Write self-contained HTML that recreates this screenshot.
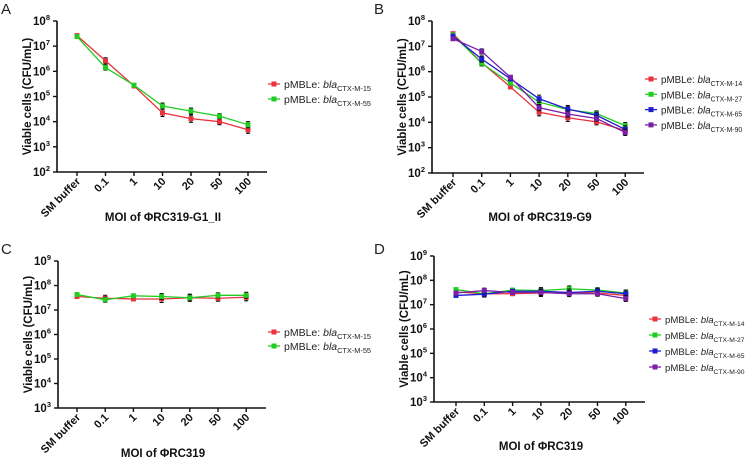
<!DOCTYPE html>
<html><head><meta charset="utf-8"><style>
body{margin:0;background:#fff;width:750px;height:459px;overflow:hidden}
svg{font-family:"Liberation Sans",Arial,sans-serif}
</style></head><body>
<svg id="fig" width="750" height="459" viewBox="0 0 750 459" xmlns="http://www.w3.org/2000/svg"></svg>
<script>
const categories = ["SM buffer","0.1","1","10","20","50","100"];
const aRed = [7.42,6.42,5.42,4.35,4.12,4.0,3.68];
const aGreen = [7.38,6.15,5.45,4.62,4.42,4.22,3.88];
const bRed = [7.5,6.35,5.4,4.4,4.18,4.02,3.68];
const bGreen = [7.45,6.33,5.55,4.8,4.5,4.35,3.87];
const bBlue = [7.4,6.5,5.72,4.93,4.52,4.28,3.72];
const bPurple = [7.3,6.8,5.78,4.58,4.33,4.15,3.6];
const cRed = [7.55,7.48,7.45,7.45,7.5,7.48,7.52];
const cGreen = [7.63,7.42,7.58,7.55,7.5,7.6,7.6];
const dRed = [7.52,7.45,7.45,7.48,7.5,7.48,7.38];
const dGreen = [7.62,7.45,7.6,7.58,7.65,7.6,7.48];
const dBlue = [7.38,7.43,7.55,7.55,7.5,7.55,7.45];
const dPurple = [7.48,7.58,7.5,7.5,7.45,7.45,7.25];
const errs = [0.05,0.1,0.06,0.12,0.12,0.1,0.12];

const NS="http://www.w3.org/2000/svg";
const svg=document.getElementById('fig');
function mk(tag,attrs,parent){const e=document.createElementNS(NS,tag);for(const k in attrs)e.setAttribute(k,attrs[k]);(parent||svg).appendChild(e);return e;}
const COLORS={red:"#e8323c",green:"#22cc22",blue:"#1c1cd0",purple:"#7a1fa8"};

function panel(p){
  const g=mk('g',{});
  
  
  const t=mk('text',{x:p.lx,y:p.ly,'font-size':15,fill:'#222'},g);t.textContent=p.letter;
  
  
  const yS=v=>p.yTop+(p.yMax-v)*(p.yBot-p.yTop)/(p.yMax-p.yMin);
  const xS=i=>p.x0+i*p.dx;
  const ax=mk('path',{d:`M${p.ax},${p.yTop}V${p.yBot}H${p.axEnd}`,stroke:'#111','stroke-width':1.6,fill:'none'},g);
  
  
  for(let v=p.yMin;v<=p.yMax;v++){
    const y=yS(v);
    mk('line',{x1:p.ax-4,x2:p.ax,y1:y,y2:y,stroke:'#111','stroke-width':1.4},g);
    const tx=mk('text',{x:p.ax-7,y:y+4,'font-size':11.5,'font-weight':'bold','text-anchor':'end',fill:'#111'},g);
    tx.innerHTML='10<tspan dy="-5" font-size="7.5">'+v+'</tspan>';
    
    
  }
  categories.forEach((c,i)=>{
    const x=xS(i);
    mk('line',{x1:x,x2:x,y1:p.yBot,y2:p.yBot+4,stroke:'#111','stroke-width':1.4},g);
    const tx=mk('text',{x:x+4,y:p.yBot+10,'font-size':11,'font-weight':'bold','text-anchor':'end',fill:'#111',transform:`rotate(-45 ${x+4} ${p.yBot+10})`},g);
    tx.textContent=c;
    
    
  });
  const xt=mk('text',{x:p.titleX,y:p.titleY,'font-size':11.5,'font-weight':'bold','text-anchor':'middle',fill:'#111'},g);
  xt.textContent=p.xtitle;
  
  
  const yc=(p.yTop+p.yBot)/2;
  const yt=mk('text',{x:p.ax-26,y:yc,'font-size':11.5,'font-weight':'bold','text-anchor':'middle',fill:'#111',transform:`rotate(-90 ${p.ax-26} ${yc})`},g);
  yt.textContent='Viable cells (CFU/mL)';
  
  
  p.series.forEach((s,si)=>{
    const col=COLORS[s.color];
    const pts=s.vals.map((v,i)=>xS(i)+','+yS(v)).join(' ');
    const pl=mk('polyline',{points:pts,fill:'none',stroke:col,'stroke-width':1.3},g);
    
    
    s.vals.forEach((v,i)=>{
      const x=xS(i),y=yS(v),e=errs[i]*(si%2?1:1.2);
      mk('path',{d:`M${x},${yS(v+e)}V${yS(v-e)}M${x-2},${yS(v+e)}h4M${x-2},${yS(v-e)}h4`,stroke:'#111','stroke-width':1.1},g);
      const m=mk('rect',{x:x-2.5,y:y-2.5,width:5,height:5,fill:col},g);
      
      
    });
    const ly=p.legY+si*p.legDy;
    const le=mk('g',{},g);
    
    
    mk('line',{x1:p.legX,x2:p.legX+12,y1:ly,y2:ly,stroke:col,'stroke-width':1.3},le);
    mk('rect',{x:p.legX+3.5,y:ly-2.5,width:5,height:5,fill:col},le);
    const lt=mk('text',{x:p.legX+16,y:ly+4,'font-size':p.legFs,fill:'#222'},le);
    lt.innerHTML='pMBLe: <tspan font-style="italic">bla</tspan><tspan dy="3" font-size="'+(p.legFs*0.7)+'">'+s.label+'</tspan>';
  });
}
panel({letter:'A',lx:1,ly:14,ax:57,axEnd:267,yTop:21,yBot:172,yMin:2,yMax:8,x0:77,dx:28.5,
  titleX:163,titleY:221,xtitle:'MOI of ΦRC319-G1_II',legX:268,legY:84,legDy:15,legFs:10.5,
  series:[{color:'red',label:'CTX-M-15',vals:aRed},{color:'green',label:'CTX-M-55',vals:aGreen}]});
panel({letter:'B',lx:374,ly:14,ax:432,axEnd:644,yTop:21,yBot:173,yMin:2,yMax:8,x0:453,dx:28.7,
  titleX:540,titleY:221,xtitle:'MOI of ΦRC319-G9',legX:645,legY:79,legDy:15.3,legFs:9.8,
  series:[{color:'red',label:'CTX-M-14',vals:bRed},{color:'green',label:'CTX-M-27',vals:bGreen},{color:'blue',label:'CTX-M-65',vals:bBlue},{color:'purple',label:'CTX-M-90',vals:bPurple}]});
panel({letter:'C',lx:1,ly:254,ax:58,axEnd:266,yTop:261,yBot:408,yMin:3,yMax:9,x0:77,dx:28.2,
  titleX:163,titleY:457,xtitle:'MOI of ΦRC319',legX:268,legY:332,legDy:14,legFs:10.5,
  series:[{color:'red',label:'CTX-M-15',vals:cRed},{color:'green',label:'CTX-M-55',vals:cGreen}]});
panel({letter:'D',lx:374,ly:254,ax:434,axEnd:645,yTop:256,yBot:402,yMin:3,yMax:9,x0:456,dx:28.3,
  titleX:541,titleY:450,xtitle:'MOI of ΦRC319',legX:649,legY:319,legDy:16,legFs:9.6,
  series:[{color:'red',label:'CTX-M-14',vals:dRed},{color:'green',label:'CTX-M-27',vals:dGreen},{color:'blue',label:'CTX-M-65',vals:dBlue},{color:'purple',label:'CTX-M-90',vals:dPurple}]});
</script>
</body></html>
